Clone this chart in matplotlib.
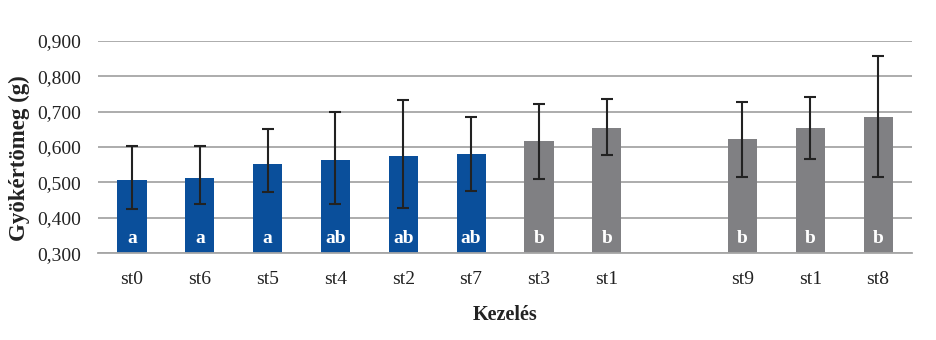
import numpy as np
import matplotlib
matplotlib.use('Agg')
import matplotlib.pyplot as plt

# data (empty slot between st1 and st9)
categories = ['st0', 'st6', 'st5', 'st4', 'st2', 'st7', 'st3', 'st1', '', 'st9', 'st1', 'st8']
means = [0.507, 0.513, 0.552, 0.563, 0.575, 0.580, 0.616, 0.653, np.nan, 0.623, 0.653, 0.685]
err_low = [0.425, 0.439, 0.473, 0.439, 0.427, 0.477, 0.510, 0.578, np.nan, 0.516, 0.565, 0.516]
err_high = [0.602, 0.602, 0.651, 0.699, 0.734, 0.684, 0.722, 0.736, np.nan, 0.728, 0.741, 0.857]
groups = ['a', 'a', 'a', 'ab', 'ab', 'ab', 'b', 'b', '', 'b', 'b', 'b']
yticks = [0.3, 0.4, 0.5, 0.6, 0.7, 0.8, 0.9]

blue = '#0a4f9b'
grey = '#808083'
colors = [blue] * 6 + [grey] * 6

plt.rcParams['font.family'] = ['Liberation Serif', 'DejaVu Serif']

fig = plt.figure(figsize=(9.36, 3.4), dpi=100)
ax = fig.add_axes([0.1047, 0.255, 0.8697, 0.625])

x = np.arange(len(categories))
m = np.array(means)
lo = m - np.array(err_low)
hi = np.array(err_high) - m

ax.bar(x, m - 0.3, bottom=0.3, width=0.43, color=colors, zorder=2)
ax.errorbar(x, m, yerr=[lo, hi], fmt='none', ecolor='#222222',
            elinewidth=1.5, capsize=4, capthick=1.5, zorder=3)

for xi, g in zip(x, groups):
    if g:
        ax.text(xi, 0.341, g, ha='center', va='center', color='white',
                fontsize=14, fontweight='bold', zorder=4)

ax.set_xlim(-0.5, len(categories) - 0.5)
ax.set_ylim(0.3, 0.9)
ax.set_yticks(yticks)
ax.set_yticklabels([f'{v:.3f}'.replace('.', ',') for v in yticks])
ax.set_xticks(x)
ax.set_xticklabels(categories)

ax.grid(axis='y', color='#a6a6a6', linewidth=1.3, zorder=0)
ax.set_axisbelow(True)
for s in ['top', 'right', 'left']:
    ax.spines[s].set_visible(False)
ax.spines['bottom'].set_color('#a6a6a6')
ax.spines['bottom'].set_linewidth(1.3)
ax.tick_params(length=0, labelsize=14, colors='#222222')
ax.tick_params(axis='y', pad=12)
ax.tick_params(axis='x', pad=13)

ax.set_xlabel('Kezelés', fontsize=14.5, fontweight='bold', labelpad=12, color='#222222')
ax.set_ylabel('Gyökértömeg (g)', fontsize=16.5, fontweight='bold', color='#222222')
ax.yaxis.set_label_coords(-0.083, 0.45)

fig.savefig('out.png', dpi=100)
